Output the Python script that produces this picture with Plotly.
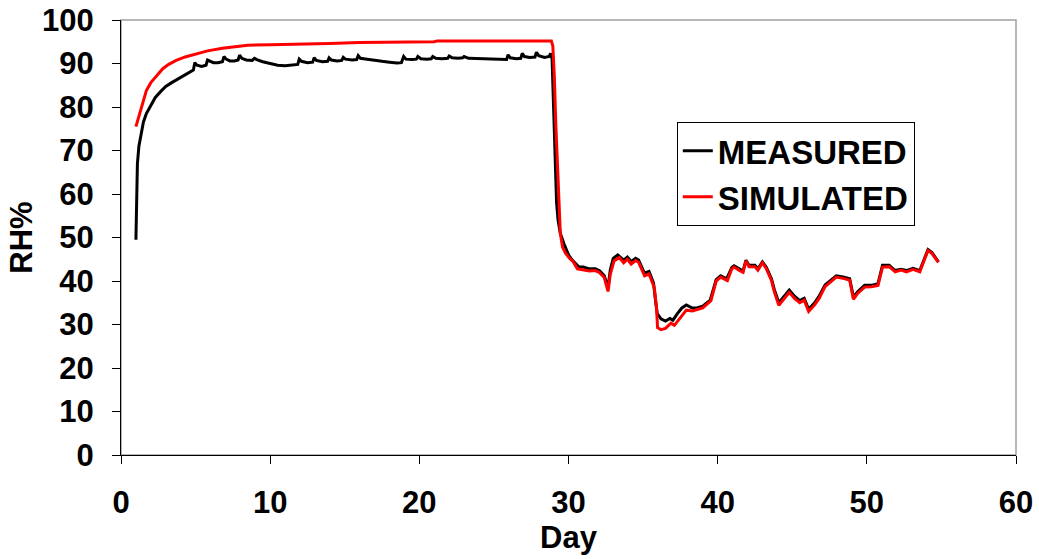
import plotly.graph_objects as go

# ---- data ----
measured_day = [1.0, 1.02, 1.05, 1.1, 1.2, 1.35, 1.5, 1.7, 1.95, 2.3, 2.7, 3.0, 3.4, 3.8, 4.2, 4.6, 4.85,
                4.95, 5.1, 5.4, 5.7, 5.8, 5.95, 6.2, 6.5, 6.8, 6.9, 7.05, 7.3, 7.6, 7.85, 7.95, 8.1, 8.4,
                8.8, 8.95, 9.1, 9.5, 10.0, 10.5, 11.0, 11.5, 11.85, 11.95, 12.1, 12.5, 12.85, 12.95, 13.1,
                13.5, 13.85, 13.95, 14.1, 14.5, 14.8, 14.9, 15.05, 15.5, 15.8, 15.9, 16.05, 16.5, 17.0,
                17.5, 18.0, 18.5, 18.8, 18.95, 19.1, 19.5, 19.8, 19.9, 20.1, 20.5, 20.8, 20.9, 21.1, 21.5,
                21.9, 22.0, 22.2, 22.6, 22.9, 23.0, 23.3, 24.0, 24.5, 25.0, 25.5, 25.85, 25.95, 26.1, 26.5,
                26.8, 26.9, 27.05, 27.4, 27.75, 27.85, 28.0, 28.4, 28.7, 28.8, 28.9, 29.0, 29.1, 29.2,
                29.3, 29.45, 29.7, 30.0, 30.25, 30.5, 30.7, 31.0, 31.4, 31.8, 32.1, 32.4, 32.65, 32.8,
                33.0, 33.3, 33.5, 33.7, 33.95, 34.2, 34.5, 34.7, 35.0, 35.1, 35.4, 35.7, 35.85, 35.95,
                36.2, 36.5, 36.8, 37.0, 37.3, 37.6, 37.9, 38.3, 38.6, 39.0, 39.5, 39.9, 40.2, 40.6, 40.95,
                41.1, 41.45, 41.7, 41.9, 42.1, 42.5, 42.7, 43.0, 43.25, 43.6, 43.8, 44.1, 44.5, 44.8,
                45.15, 45.5, 45.8, 46.1, 46.5, 46.8, 47.2, 47.5, 47.95, 48.4, 48.85, 49.1, 49.4, 49.85,
                50.3, 50.75, 51.05, 51.5, 51.9, 52.3, 52.65, 53.1, 53.55, 53.8, 54.1, 54.35, 54.8]
measured_rh = [49.5, 55.0, 62.0, 67.0, 71.0, 74.0, 76.5, 78.5, 80.2, 82.2, 83.7, 84.7, 85.6, 86.4, 87.2, 88.0, 88.5,
               90.2, 89.6, 89.3, 89.6, 90.8, 90.6, 90.2, 90.2, 90.4, 91.6, 91.0, 90.6, 90.6, 90.8, 91.9, 91.2, 90.8,
               90.7, 91.2, 90.9, 90.4, 90.0, 89.6, 89.5, 89.6, 89.8, 91.0, 90.5, 90.2, 90.3, 91.3, 90.7,
               90.4, 90.5, 91.3, 90.8, 90.6, 90.7, 91.4, 91.0, 90.8, 90.9, 91.8, 91.2, 91.0, 90.7,
               90.5, 90.3, 90.1, 90.2, 91.6, 91.0, 90.9, 91.0, 91.6, 91.1, 91.0, 91.1, 91.6, 91.2, 91.1,
               91.2, 91.7, 91.3, 91.2, 91.3, 91.6, 91.2, 91.1, 91.0, 90.9, 90.8, 90.9, 92.0, 91.3, 91.1,
               91.2, 92.3, 91.6, 91.4, 91.5, 92.6, 91.8, 91.4, 91.6, 92.3, 91.0, 80.0, 67.0, 58.0,
               54.0, 51.0, 48.5, 46.0, 44.8, 43.8, 43.2, 43.2, 42.8, 42.8, 42.3, 41.2, 38.5, 42.5,
               45.2, 46.0, 45.5, 44.8, 45.5, 44.5, 45.2, 44.8, 42.5, 41.8, 42.2, 39.5, 35.0, 32.5,
               31.3, 30.8, 31.4, 31.0, 32.5, 33.8, 34.5, 33.8, 33.8, 34.2, 35.6, 40.3, 41.2, 40.5, 43.1,
               43.5, 42.8, 42.3, 44.8, 43.6, 43.6, 42.8, 44.4, 43.2, 40.6, 38.0, 35.0, 36.6, 37.9,
               36.5, 35.5, 36.0, 33.5, 35.0, 36.5, 39.1, 39.9, 41.2, 40.9, 40.5, 36.3, 37.6, 39.0,
               39.0, 39.4, 43.6, 43.6, 42.4, 42.7, 42.4, 42.9, 42.4, 44.6, 47.2, 46.6, 44.4]

simulated_day = [1.0, 1.25, 1.5, 1.7, 2.0, 2.4, 2.8, 3.2, 3.7, 4.3, 5.0, 5.8, 6.8, 7.8, 8.5, 10.0, 12.0,
                 14.0, 16.0, 18.0, 21.0, 21.2, 25.0, 28.85, 28.95, 29.05, 29.15, 29.25, 29.35, 29.45,
                 29.6, 29.8, 30.05, 30.3, 30.6, 31.0, 31.4, 31.8, 32.05, 32.4, 32.65, 32.8, 33.05, 33.4,
                 33.7, 33.95, 34.2, 34.5, 34.7, 35.1, 35.4, 35.75, 35.9, 35.97, 36.2, 36.5, 36.87, 37.1,
                 37.4, 37.9, 38.3, 39.0, 39.55, 39.9, 40.2, 40.65, 40.95, 41.1, 41.45, 41.7, 41.9, 42.1,
                 42.5, 42.7, 43.0, 43.25, 43.6, 43.8, 44.1, 44.5, 44.8, 45.15, 45.5, 45.8, 46.1, 46.5,
                 46.8, 47.2, 47.5, 47.95, 48.4, 48.85, 49.1, 49.4, 49.85, 50.3, 50.75, 51.05, 51.5,
                 51.9, 52.3, 52.65, 53.1, 53.55, 53.8, 54.1, 54.35, 54.8]
simulated_rh = [75.5, 78.5, 81.5, 83.8, 85.6, 87.3, 88.8, 89.8, 90.7, 91.5, 92.2, 92.9, 93.5, 94.0, 94.2, 94.3, 94.4,
                94.6, 94.8, 94.9, 95.0, 95.2, 95.2, 95.2, 94.0, 87.0, 76.0, 67.0, 58.0, 51.0,
                47.8, 46.4, 45.3, 44.5, 42.8, 42.5, 42.3, 42.4, 42.0, 40.8, 37.6, 41.5, 44.6, 45.4,
                44.2, 45.0, 43.9, 44.7, 44.3, 41.2, 41.6, 38.5, 34.0, 29.3, 28.8, 29.1, 30.3, 29.8,
                31.2, 33.3, 33.1, 33.8, 35.5, 40.0, 40.9, 40.1, 42.8, 43.2, 42.4, 42.0, 44.6, 43.3,
                43.3, 42.5, 44.2, 42.9, 40.2, 37.5, 34.4, 36.0, 37.4, 36.0, 35.0, 35.6, 33.0, 34.5,
                36.0, 38.7, 39.5, 40.9, 40.6, 40.2, 35.8, 37.2, 38.6, 38.7, 39.0, 43.2, 43.3,
                42.1, 42.5, 42.1, 42.7, 42.1, 44.4, 47.0, 46.4, 44.3]

x_ticks = [0, 10, 20, 30, 40, 50, 60]
y_ticks = [0, 10, 20, 30, 40, 50, 60, 70, 80, 90, 100]

FONT = "Liberation Sans"
FS = 31

fig = go.Figure()
fig.add_trace(go.Scatter(x=measured_day, y=measured_rh, mode="lines", name="MEASURED",
                         line=dict(color="#000000", width=3)))
fig.add_trace(go.Scatter(x=simulated_day, y=simulated_rh, mode="lines", name="SIMULATED",
                         line=dict(color="#ff0000", width=3)))

# gray plot-area frame
fig.add_shape(type="rect", xref="paper", yref="paper", x0=0, y0=0, x1=1, y1=1,
              line=dict(color="#a0a0a0", width=1.5), layer="below")

fig.update_layout(
    width=1039, height=559,
    margin=dict(l=121, r=23, t=20, b=104, autoexpand=False),
    paper_bgcolor="white", plot_bgcolor="white",
    font=dict(family=FONT, color="black", size=FS),
    showlegend=True,
    legend=dict(x=0.621, y=0.766, xanchor="left", yanchor="top",
                bgcolor="white", bordercolor="black", borderwidth=1,
                font=dict(family=FONT, size=33, color="black", weight="bold"),
                itemwidth=30, tracegroupgap=0),
    xaxis=dict(range=[0, 60], tickvals=x_ticks, ticktext=[str(v) for v in x_ticks],
               automargin=False, ticklabeloverflow="allow",
               showgrid=False, zeroline=False, showline=True, linecolor="black", linewidth=1,
               ticks="outside", ticklen=8, tickcolor="black",
               tickfont=dict(family=FONT, size=FS, color="black", weight="bold"),
               ticklabelstandoff=12,
               title=dict(text="<b>Day</b>", font=dict(family=FONT, size=FS, color="black"), standoff=0)),
    yaxis=dict(range=[0, 100], tickvals=y_ticks, ticktext=[str(v) for v in y_ticks],
               automargin=True, ticklabeloverflow="allow",
               showgrid=False, zeroline=False, showline=True, linecolor="black", linewidth=1,
               ticks="outside", ticklen=8, tickcolor="black",
               tickfont=dict(family=FONT, size=FS, color="black", weight="bold"),
               ticklabelstandoff=12,
               title=dict(text="<b>RH%</b>", font=dict(family=FONT, size=FS, color="black"), standoff=0)),
)

fig.write_html("out.html", config={"displayModeBar": False},
               post_script="document.body.style.margin='0';")
